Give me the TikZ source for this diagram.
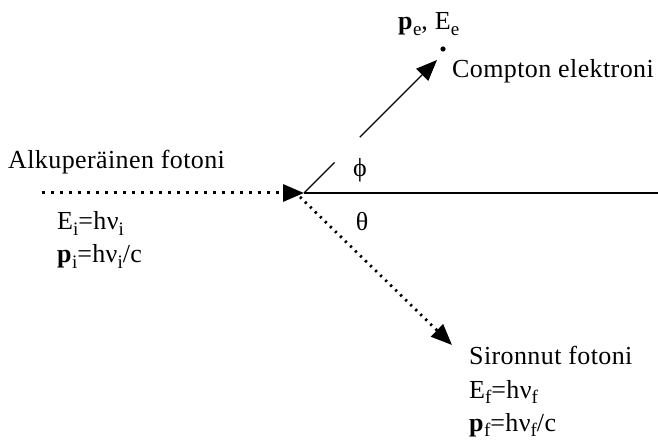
\documentclass[tikz,border=0pt]{standalone}
\usepackage{fontspec}
\setmainfont{Liberation Serif}[LetterSpace=1.5]
\usetikzlibrary{arrows.meta,calc}
\newcommand{\mysub}[1]{\raisebox{-0.22em}{\fontsize{19}{20}\selectfont #1}}
\begin{document}
\begin{tikzpicture}[x=1pt,y=-1pt,
  lbl/.style={inner sep=0pt,font=\fontsize{26}{30}\selectfont},
  tri/.style={-{Triangle[length=21pt,width=17pt]}},
  dotline/.style={line width=3pt, dash pattern=on 3pt off 6pt},
  dotline2/.style={line width=2.8pt, dash pattern=on 2.2pt off 4.8pt},
  solid line/.style={line width=1.3pt},
  thin line/.style={line width=1.1pt}]
\useasboundingbox (0,0) rectangle (658,443);
% key points
\coordinate (O) at (304,193);
\coordinate (O2) at (300,197);
\coordinate (L) at (42,193);
\coordinate (R) at (658,193);
\coordinate (Etip) at (437,60);
\coordinate (Ftip) at (452,345);
\coordinate (gapA) at ($(O)!0.23!(Etip)$);
\coordinate (gapB) at ($(O)!0.42!(Etip)$);
% lines
\draw[solid line] (O) -- (R);
\draw[dotline, tri] (L) -- (O);
\draw[thin line] (O) -- (gapA);
\draw[thin line, tri] (gapB) -- (Etip);
\draw[dotline2, tri] (O2) -- (Ftip);
\fill (443,49) circle (2.6);
% labels
\node[lbl, anchor=base west] (alku) at (8,169) {Alkuperäinen fotoni};
\node[lbl, anchor=base west] (Ei) at (57,230) {E\mysub{i}=hν\mysub{i}};
\node[lbl, anchor=base west] (pi) at (57,263) {\textbf{p}\mysub{i}=hν\mysub{i}/c};
\node[lbl, anchor=base west] (pe) at (398,30) {\textbf{p}\mysub{e}, E\mysub{e}};
\node[lbl, anchor=base west] (compton) at (452,78) {Compton elektroni};
\node[lbl] (phi) at (360,170) {ϕ};
\node[lbl] (theta) at (362,222) {θ};
\node[lbl, anchor=base west] (sir) at (469,364) {Sironnut fotoni};
\node[lbl, anchor=base west] (Ef) at (469,398) {E\mysub{f}=hν\mysub{f}};
\node[lbl, anchor=base west] (pf) at (469,431) {\textbf{p}\mysub{f}=hν\mysub{f}/c};
\end{tikzpicture}
\end{document}
